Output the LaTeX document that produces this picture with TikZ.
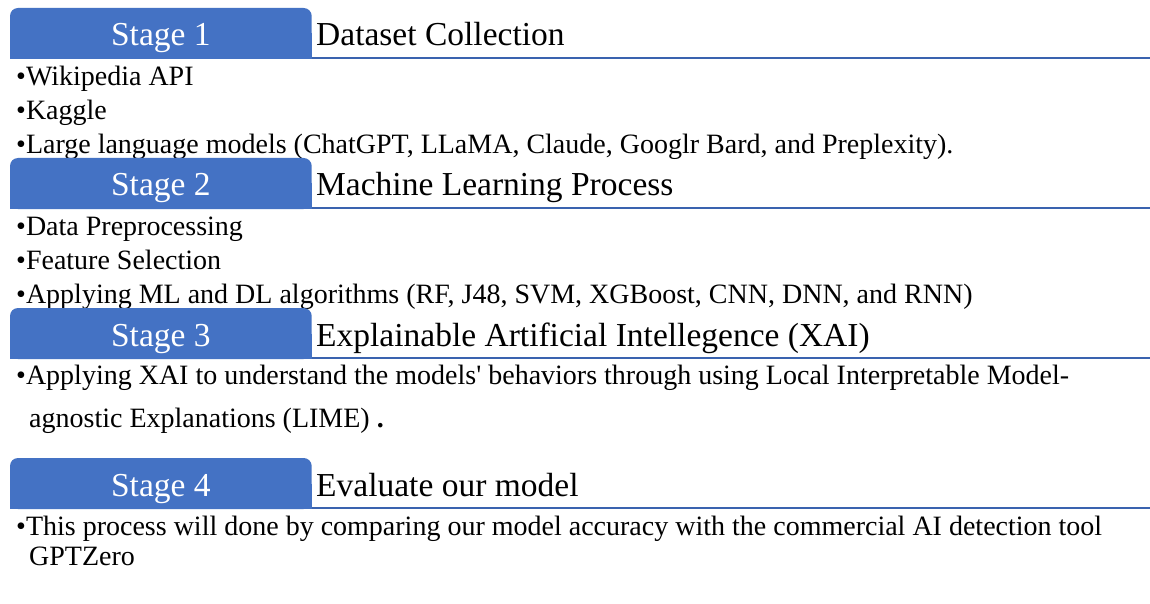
\documentclass[tikz,border=0pt]{standalone}
\usepackage{fontspec}
\setmainfont{Liberation Serif}[Ligatures=TeXOff]
\definecolor{tabblue}{HTML}{4472C4}
\definecolor{ruleblue}{HTML}{3A63AF}
\begin{document}
\begin{tikzpicture}[x=1pt,y=-1pt,
  body/.style={anchor=base west, inner sep=0pt, font=\fontsize{28}{30}\selectfont},
  head/.style={anchor=base west, inner sep=0pt, font=\fontsize{33.5}{36}\selectfont},
  stagelbl/.style={anchor=base, inner sep=0pt, text=white, font=\fontsize{33.5}{36}\selectfont},
  tabshape/.style={fill=tabblue, rounded corners=8pt, minimum width=301.7pt, minimum height=51pt, inner sep=0pt},
  rulel/.style={draw=ruleblue, line width=2.2pt}]
\useasboundingbox (0,0) rectangle (1150,604);
\fill[white] (0,0) rectangle (1150,604);

% ---------- body texts ----------
\node[body] (b11) at (16,86)  {\textbullet Wikipedia API};
\node[body] (b12) at (16,120) {\textbullet Kaggle};
\node[body] (b13) at (16,154) {\textbullet Large language models (ChatGPT, LLaMA, Claude, Googlr Bard, and Preplexity).};

\node[body] (b21) at (16,235) {\textbullet Data Preprocessing};
\node[body] (b22) at (16,269) {\textbullet Feature Selection};
\node[body] (b23) at (16,303) {\textbullet Applying ML and DL algorithms (RF, J48, SVM, XGBoost, CNN, DNN, and RNN)};

\node[body] (b31) at (16,384) {\textbullet Applying XAI to understand the models' behaviors through using Local Interpretable Model-};
\node[body] (b32) at (29,427) {agnostic Explanations (LIME) \textbf{.}};

\node[body] (b41) at (16,535) {\textbullet This process will done by comparing our model accuracy with the commercial AI detection tool};
\node[body] (b42) at (29,565) {GPTZero};

% ---------- stage tabs ----------
\foreach \i/\t in {1/8,2/158,3/308,4/458}{
  \node[tabshape] (tab\i) at (160.85,\t+25.5) {};
  \fill[tabblue] (tab\i.west) rectangle (tab\i.south east);
  \node[stagelbl] (st\i) at (160.85,\t+38) {Stage \i};
  \coordinate (re\i) at (1150,\t+50);
  \draw[rulel] (tab\i.south east |- re\i) -- (re\i);
}

\node[head] (h1) at (316,46)  {Dataset Collection};
\node[head] (h2) at (316,196) {Machine Learning Process};
\node[head] (h3) at (316,346) {Explainable Artificial Intellegence (XAI)};
\node[head] (h4) at (316,496) {Evaluate our model};
\end{tikzpicture}
\end{document}
